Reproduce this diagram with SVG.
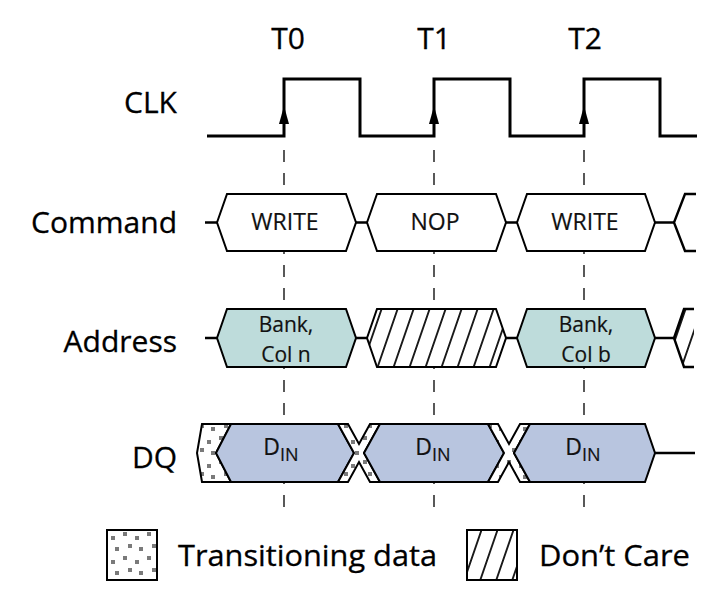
<svg xmlns="http://www.w3.org/2000/svg" width="728" height="609" viewBox="0 0 728 609">
<style>
.lbl{font-family:"Open Sans","Noto Sans","DejaVu Sans",sans-serif;font-size:30px;fill:#000;stroke:#000;stroke-width:0.3;}
.in{font-family:"Open Sans","Noto Sans","DejaVu Sans",sans-serif;font-size:23px;fill:#111;stroke:#111;stroke-width:0.2;text-anchor:middle;}
.in2{font-family:"Open Sans","Noto Sans","DejaVu Sans",sans-serif;font-size:21px;fill:#111;stroke:#111;stroke-width:0.2;text-anchor:middle;}
.leg{font-family:"Open Sans","Noto Sans","DejaVu Sans",sans-serif;font-size:30px;fill:#000;stroke:#000;stroke-width:0.3;}
.ol{stroke:#000;stroke-width:2;stroke-linejoin:miter;}
.bus{stroke:#000;stroke-width:2.4;fill:none;}
.dash{stroke:#000;stroke-width:1.3;stroke-dasharray:12 11;fill:none;}
.w{fill:#fff;}
.teal{fill:#bedcdb;}
.blue{fill:#b8c5df;}
</style>
<defs>
<pattern id="hatch" width="16" height="16" patternUnits="userSpaceOnUse" patternTransform="skewX(-19)">
<rect width="16" height="16" fill="#fff"/>
<line x1="8" y1="0" x2="8" y2="16" stroke="#000" stroke-width="1.8"/>
</pattern>
<pattern id="dots" width="24" height="24" patternUnits="userSpaceOnUse">
<rect width="24" height="24" fill="#fff"/>
<rect x="3" y="4" width="4" height="4" fill="#7a7a7a"/>
<rect x="15" y="8" width="4" height="4" fill="#7a7a7a"/>
<rect x="8" y="16" width="4" height="4" fill="#7a7a7a"/>
<rect x="19" y="19" width="4" height="4" fill="#7a7a7a"/>
</pattern>
</defs>
<rect width="728" height="609" fill="#fff"/>

<g id="connectors">
<line class="dash" x1="284" y1="150" x2="284" y2="508"/>
<line class="dash" x1="434" y1="150" x2="434" y2="508"/>
<line class="dash" x1="584" y1="150" x2="584" y2="508"/>
</g>

<g id="time-labels">
<text class="lbl" x="288" y="49" text-anchor="middle">T0</text>
<text class="lbl" x="434" y="49" text-anchor="middle">T1</text>
<text class="lbl" x="585" y="49" text-anchor="middle">T2</text>
</g>

<g id="row-labels">
<text class="lbl" x="177" y="113" text-anchor="end">CLK</text>
<text class="lbl" x="177" y="233" text-anchor="end">Command</text>
<text class="lbl" x="177" y="352" text-anchor="end">Address</text>
<text class="lbl" x="177" y="468" text-anchor="end">DQ</text>
</g>

<g id="clk">
<polyline fill="none" stroke="#000" stroke-width="3" points="207,136 284,136 284,79 360,79 360,136 434,136 434,79 510,79 510,136 584,136 584,79 660,79 660,136 697,136"/>
<polygon points="284,106 279,124 289,124" fill="#000"/>
<polygon points="434,106 429,124 439,124" fill="#000"/>
<polygon points="584,106 579,124 589,124" fill="#000"/>
</g>

<g id="command-row">
<path class="bus" d="M205,222.5H217 M356,222.5H367 M506,222.5H517 M655,222.5H674"/>
<g id="cmd-write-t0">
<polygon class="ol w" points="217,222.5 227,194 346,194 356,222.5 346,251 227,251"/>
<text class="in" x="285" y="230">WRITE</text>
</g>
<g id="cmd-nop-t1">
<polygon class="ol w" points="367,222.5 377,194 496,194 506,222.5 496,251 377,251"/>
<text class="in" x="435" y="230">NOP</text>
</g>
<g id="cmd-write-t2">
<polygon class="ol w" points="517,222.5 527,194 645,194 655,222.5 645,251 527,251"/>
<text class="in" x="585" y="230">WRITE</text>
</g>
<g id="cmd-next">
<polyline class="bus" stroke-width="2" points="696,194 685,194 674,222.5 685,251 696,251"/>
</g>
</g>

<g id="address-row">
<path class="bus" d="M205,338H217 M356,338H367 M506,338H517 M655,338H674"/>
<g id="addr-bank-col-n">
<polygon class="ol teal" points="217,338 227,309 346,309 356,338 346,367 227,367"/>
<text class="in2" x="286" y="332">Bank,</text>
<text class="in2" x="286" y="362">Col n</text>
</g>
<g id="addr-dontcare-t1">
<polygon class="ol" fill="url(#hatch)" points="367,338 377,309 496,309 506,338 496,367 377,367"/>
</g>
<g id="addr-bank-col-b">
<polygon class="ol teal" points="517,338 527,309 645,309 655,338 645,367 527,367"/>
<text class="in2" x="586" y="332">Bank,</text>
<text class="in2" x="586" y="362">Col b</text>
</g>
<g id="addr-next">
<polygon fill="url(#hatch)" points="694,309 684,309 674,338 684,367 694,367"/>
<polyline class="bus" stroke-width="2" points="694,309 684,309 674,338 684,367 694,367"/>
</g>
</g>

<g id="dq-row">
<g id="dq-trans-0">
<polygon class="ol" fill="url(#dots)" points="202,424 231,424 216,453 231,482 202,482 197,453"/>
</g>
<g id="dq-din-t0">
<polygon class="ol blue" points="216,453 231,424 338,424 354,453 338,482 231,482"/>
<text class="in" x="281" y="455">D<tspan font-size="18" dy="6">IN</tspan></text>
</g>
<g id="dq-trans-1">
<polygon class="ol" fill="url(#dots)" points="338,424 348,424 359,444 370,424 380,424 364,453 380,482 370,482 359,462 348,482 338,482 354,453"/>
</g>
<g id="dq-din-t1">
<polygon class="ol blue" points="364,453 380,424 488,424 504,453 488,482 380,482"/>
<text class="in" x="433" y="455">D<tspan font-size="18" dy="6">IN</tspan></text>
</g>
<g id="dq-trans-2">
<polygon class="ol" fill="url(#dots)" points="488,424 498,424 509,444 520,424 530,424 514,453 530,482 520,482 509,462 498,482 488,482 504,453"/>
</g>
<g id="dq-din-t2">
<polygon class="ol blue" points="514,453 530,424 645,424 655,453 645,482 530,482"/>
<text class="in" x="583" y="455">D<tspan font-size="18" dy="6">IN</tspan></text>
</g>
<path class="bus" d="M655,453H695"/>
</g>

<g id="legend">
<g id="legend-transitioning">
<rect x="107" y="530" width="50" height="50" fill="url(#dots)" stroke="#000" stroke-width="2"/>
<text class="leg" x="178" y="566" textLength="259" lengthAdjust="spacingAndGlyphs">Transitioning data</text>
</g>
<g id="legend-dontcare">
<rect x="467" y="530" width="50" height="50" fill="url(#hatch)" stroke="#000" stroke-width="2"/>
<text class="leg" x="539" y="566" textLength="151" lengthAdjust="spacingAndGlyphs">Don’t Care</text>
</g>
</g>
</svg>
